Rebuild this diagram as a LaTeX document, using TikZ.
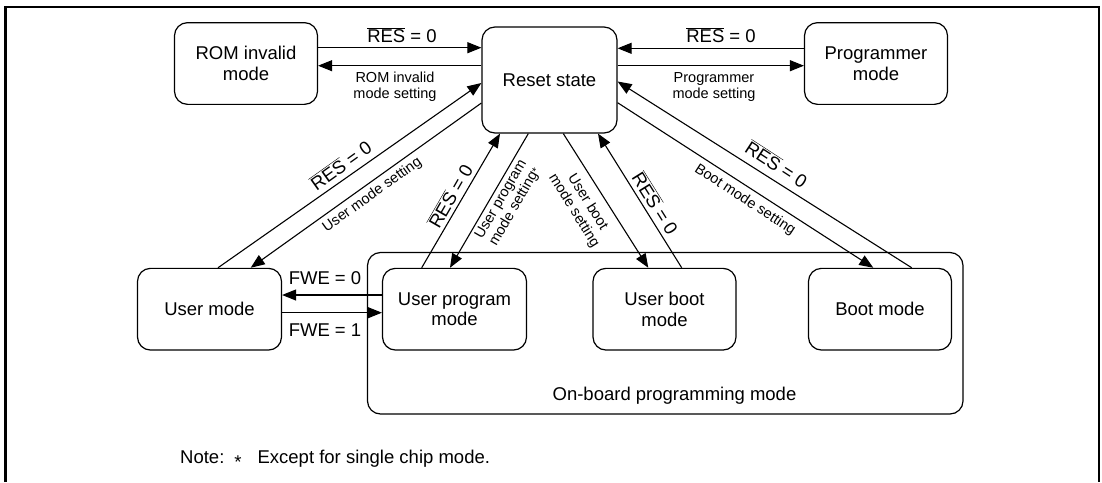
\documentclass[tikz,border=0pt]{standalone}
\usepackage{fontspec}
\setmainfont{Liberation Sans}
\usetikzlibrary{arrows.meta,calc}
\newcommand{\resbar}{$\overline{\mbox{RES}}$}
\newcommand{\bigf}{\fontsize{18.5}{20.5}\selectfont}
\newcommand{\smallf}{\fontsize{14.5}{16}\selectfont}
\begin{document}
\begin{tikzpicture}[x=1pt,y=-1pt,
  box/.style={draw,line width=1.2pt,rounded corners=13pt,minimum width=144pt,minimum height=81.7pt,align=center,font=\bigf,inner sep=0pt},
  arr/.style={line width=1.1pt,-{Triangle[length=14pt,width=11pt]}},
  lbl/.style={font=\bigf,inner sep=0pt},
  slbl/.style={font=\smallf,inner sep=0pt,align=center}]
\useasboundingbox (0,0) rectangle (1102,482);
\draw[line width=2.4pt] (5.5,482) -- (5.5,6.7) -- (1098.8,6.7) -- (1098.8,482);

% container
\node[draw,line width=1.2pt,rounded corners=13pt,minimum width=595.5pt,minimum height=161.5pt,inner sep=0pt] (obp) at (665.25,333.25) {};
\node[lbl] (obpl) at (674.5,395.7) {On-board programming mode};

% nodes
\node[box,minimum width=143pt] (rom) at (246,63.5) {ROM invalid\\mode};
\node[box,minimum width=135pt,minimum height=106pt] (reset) at (549.5,80) {Reset state};
\node[box,minimum width=143pt] (prog) at (876,63.5) {Programmer\\mode};
\node[box] (um) at (209.5,309.2) {User mode};
\node[box] (upm) at (454.5,309.2) {User program\\mode};
\node[box,minimum width=143pt] (ubm) at (664.5,309.2) {User boot\\mode};
\node[box,minimum width=143pt] (bm) at (880,309.2) {Boot mode};

% horizontal arrows top
\draw[arr] ($(rom.east)+(0,-15.8)$) coordinate (h1) -- (h1 -| reset.west);
\draw[arr] ($(reset.west)+(0,-14.3)$) coordinate (h2) -- (h2 -| rom.east);
\draw[arr] ($(prog.west)+(0,-15.2)$) coordinate (h3) -- (h3 -| reset.east);
\draw[arr] ($(reset.east)+(0,-14.3)$) coordinate (h4) -- (h4 -| prog.west);
\node[lbl] (t1) at (402,35) {\resbar{} = 0};
\node[slbl] (t2) at (395,86.7) {ROM invalid\\mode setting};
\node[lbl] (t3) at (721,35) {\resbar{} = 0};
\node[slbl] (t4) at (714,86.7) {Programmer\\mode setting};

% diagonals
\draw[arr] ($(um.north)+(8.5,0)$) -- ($(reset.west)+(0,3)$);
\draw[arr] ($(reset.west)+(0,23)$) -- ($(um.north)+(41.2,0)$);
\draw[arr] ($(upm.north)+(-32.8,0)$) -- ($(reset.south)+(-49.5,0)$);
\draw[arr] ($(reset.south)+(-21.2,0)$) -- ($(upm.north)+(-4.5,0)$);
\draw[arr] ($(reset.south)+(13.8,0)$) -- ($(ubm.north)+(-16.2,0)$);
\draw[arr] ($(ubm.north)+(17.2,0)$) -- ($(reset.south)+(48.5,0)$);
\draw[arr] ($(reset.east)+(0,22.7)$) -- ($(bm.north)+(-6.7,0)$);
\draw[arr] ($(bm.north)+(31.7,0)$) -- ($(reset.east)+(0,1.5)$);

\node[lbl,rotate=35.5] (d1) at (340.7,165) {\resbar{} = 0};
\node[slbl,rotate=35.5] (d2) at (372.3,195) {User mode setting};
\node[lbl,rotate=60] (d3) at (450,196) {\resbar{} = 0};
\node[slbl,rotate=60] (d4) at (508.3,203.3) {User program\\mode setting{\fontsize{11}{11}\selectfont *}};
\node[slbl,rotate=-58] (d5) at (580.7,206.7) {User boot\\mode setting};
\node[lbl,rotate=-58] (d6) at (655.7,203.3) {\resbar{} = 0};
\node[lbl,rotate=-33] (d7) at (776.7,164) {\resbar{} = 0};
\node[slbl,rotate=-33] (d8) at (745,200) {Boot mode setting};

% FWE
\draw[arr] ($(upm.west)+(0,-14.2)$) coordinate (f0) -- (f0 -| um.east);
\draw[arr] ($(um.east)+(0,3.5)$) coordinate (f1) -- (f1 -| upm.west);
\node[lbl] (fw0) at (325,277.7) {FWE = 0};
\node[lbl] (fw1) at (325,330) {FWE = 1};

% note
\node[lbl,anchor=west] (note) at (180,459) {Note:\hspace{10pt}\raisebox{-0.28em}{*}\hspace{16pt}Except for single chip mode.};
\end{tikzpicture}
\end{document}
